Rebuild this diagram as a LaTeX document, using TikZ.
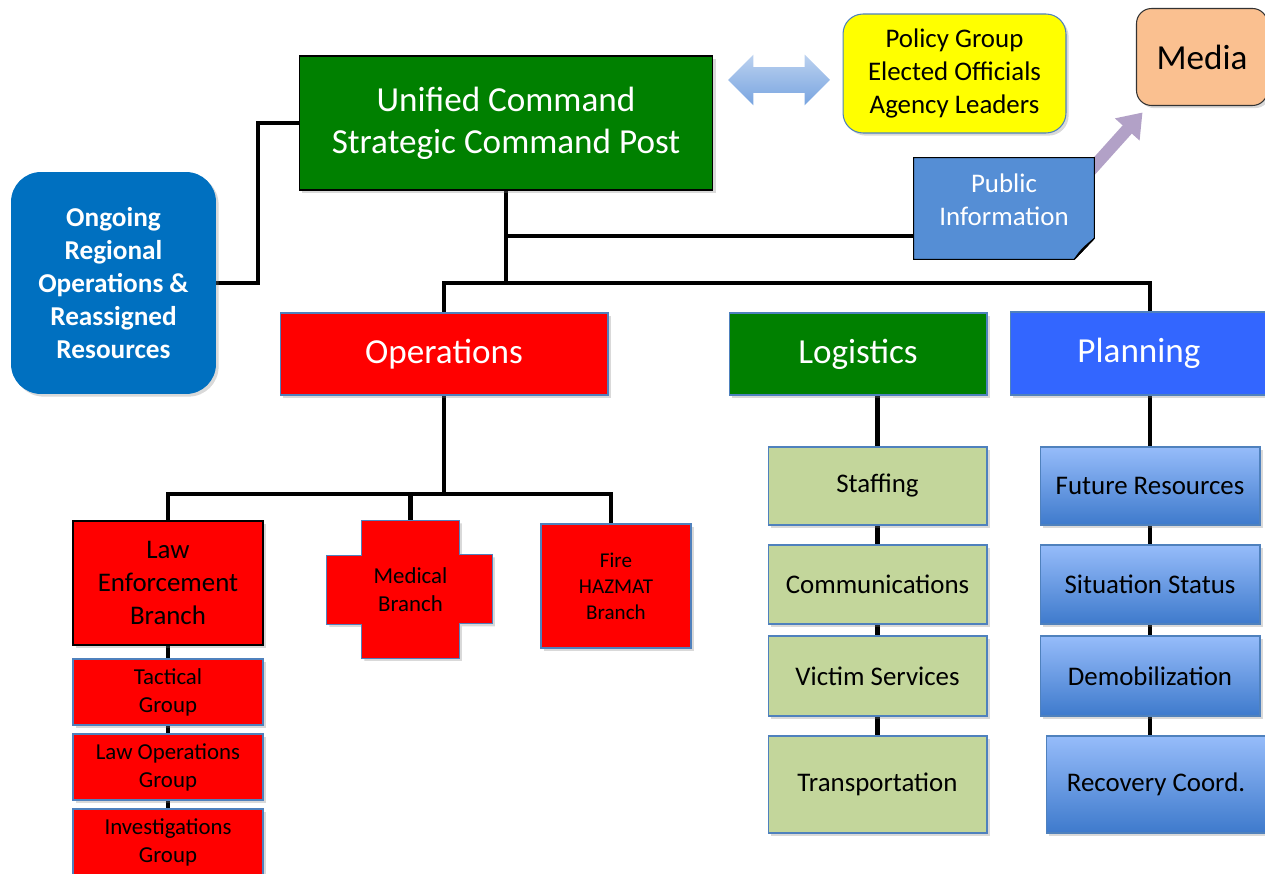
\documentclass[tikz,border=0pt]{standalone}
\usepackage{fontspec}
\setmainfont{Carlito}
\usepackage{tikz}
\usetikzlibrary{positioning,calc,shapes.arrows,shadows,backgrounds,arrows.meta}
\definecolor{cmdgreen}{RGB}{0,128,0}
\definecolor{opsred}{RGB}{255,0,0}
\definecolor{planblue}{RGB}{51,102,255}
\definecolor{regionblue}{RGB}{0,112,192}
\definecolor{policyyellow}{RGB}{255,255,0}
\definecolor{mediapeach}{RGB}{250,192,144}
\definecolor{pioblue}{RGB}{85,142,213}
\definecolor{lavender}{RGB}{178,161,199}
\definecolor{logigreen}{RGB}{195,214,155}
\definecolor{edgeblue}{RGB}{79,129,189}
\definecolor{gradtop}{RGB}{150,188,250}
\definecolor{gradbot}{RGB}{62,122,204}
\definecolor{arrowblue}{RGB}{120,164,224}

\tikzset{
  box/.style={rectangle, inner sep=0pt, outer sep=0pt, align=center, draw=edgeblue, line width=0.6pt},
  shade/.style={drop shadow={opacity=0.3, shadow xshift=1.5pt, shadow yshift=-1.5pt}},
  conn/.style={line width=2.3pt, black},
  big/.style={font=\fontsize{20}{24}\selectfont},
  mid/.style={font=\fontsize{15.3}{18.8}\selectfont},
  small/.style={font=\fontsize{13}{16}\selectfont},
  tiny/.style={font=\fontsize{12}{14.8}\selectfont},
  logibox/.style={box, shade, fill=logigreen, mid, minimum width=4.38cm},
  planbox/.style={box, shade, top color=gradtop, bottom color=gradbot, mid, minimum width=4.4cm},
  lawbox/.style={box, shade, fill=opsred, small, minimum width=3.8cm, minimum height=1.32cm}
}

\begin{document}
\begin{tikzpicture}[x=0.02cm, y=-0.02cm]
        \clip (0,0) rectangle (1265,874);

        % Top level
        \node[box, shade, draw=black, fill=cmdgreen, text=white, big, minimum width=8.28cm, minimum height=2.68cm] (uc) at (506,123) {\raisebox{-0.06cm}{\parbox{8cm}{\centering Unified Command\\Strategic Command Post}}};
        \node[double arrow, double arrow head extend=0.25cm, minimum height=2.04cm, inner xsep=0pt, inner ysep=0.25cm, top color=arrowblue!50, bottom color=arrowblue] (dbl) at (779,80) {};
        \node[box, shade, rounded corners=0.4cm, fill=policyyellow, mid, minimum width=4.46cm, minimum height=2.38cm] (pol) at (954.5,73.5) {Policy Group\\Elected Officials\\Agency Leaders};
        \node[box, shade, draw=black!80, rounded corners=0.3cm, fill=mediapeach, big, minimum width=2.62cm, minimum height=1.94cm] (media) at (1202,57) {Media};
        \node[inner sep=0pt, minimum width=3.6cm, minimum height=2.02cm,
              label={[name=pitext, align=center, text=white, mid, yshift=0.18cm]center:Public\\Information}] (pi) at (1004,208.5) {};
        \node[box, shade, draw=none, rounded corners=0.6cm, fill=regionblue, text=white, font=\fontsize{15.5}{18.8}\selectfont\bfseries, minimum width=4.1cm, minimum height=4.44cm] (ong) at (113.5,283) {Ongoing\\Regional\\Operations \&\\Reassigned\\Resources};

        % Sections
        \node[box, shade, fill=opsred, text=white, big, minimum width=6.56cm, minimum height=1.64cm] (ops) at (444,354) {Operations};
        \node[box, shade, fill=cmdgreen, text=white, big, minimum width=5.16cm, minimum height=1.64cm] (logi) at (858,354) {Logistics};
        \node[box, shade, fill=planblue, text=white, big, minimum width=5.16cm, minimum height=1.66cm] (plan) at (1139,353.5) {Planning};

        % Operations branches
        \node[box, shade, draw=black, fill=opsred, mid, minimum width=3.8cm, minimum height=2.48cm] (law) at (168,583) {Law\\Enforcement\\Branch};
        \node[inner sep=0pt, align=center, small, minimum width=1.94cm, minimum height=2.74cm] (med) at (410.5,589.5) {Medical\\Branch};
        \node[box, shade, fill=opsred, tiny, minimum width=3cm, minimum height=2.48cm] (fire) at (616,586) {Fire\\HAZMAT\\Branch};
        \node[lawbox] (tac) at (168,692) {Tactical\\Group};
        \node[lawbox] (lops) at (168,767) {Law Operations\\Group};
        \node[lawbox, minimum height=1.34cm] (inv) at (168,842.5) {Investigations\\Group};

        % Logistics units
        \node[logibox, minimum height=1.56cm] (staff) at (877.5,486) {Staffing};
        \node[logibox, minimum height=1.58cm] (comm) at (877.5,584.5) {Communications};
        \node[logibox, minimum height=1.6cm] (vict) at (877.5,676) {Victim Services};
        \node[logibox, minimum height=1.94cm] (trans) at (877.5,784.5) {Transportation};

        % Planning units
        \node[planbox, minimum height=1.56cm] (fut) at (1150,486) {Future Resources};
        \node[planbox, minimum height=1.58cm] (sit) at (1150,584.5) {Situation Status};
        \node[planbox, minimum height=1.6cm] (demob) at (1150,676) {Demobilization};
        \node[planbox, minimum height=1.94cm] (recov) at (1156,784.5) {Recovery Coord.};

        \begin{scope}[on background layer]
        % Media arrow
        \draw[lavender, line width=7pt, -{Triangle[width=18pt,length=13pt]}] ($(pi.north east)+(-14,24)$) -- ($(media.south west)+(6,7)$);

        % Lines
        \draw[conn] (uc.west) -- ++(-41,0) |- (ong.east);
        \coordinate (bus) at (506,283);
        \draw[conn] (uc.south) -- (bus);
        \draw[conn] (uc.south |- 0,236) -- (pi.west |- 0,236);
        \draw[conn] (ops.north) |- (bus) -| (fut.north |- plan.north);
        \coordinate (obus) at (444,494);
        \draw[conn] (ops.south) -- (obus);
        \draw[conn] (law.north) |- (obus) -| ([xshift=-0.1cm]fire.north);
        \draw[conn] (obus -| med.north) -- (med.north);
        \draw[conn] (law.south) -- (tac.north);
        \draw[conn] (tac.south) -- (lops.north);
        \draw[conn] (lops.south) -- (inv.north);
        \draw[conn] (staff.north |- logi.south) -- (staff.north);
        \foreach \a/\b in {staff/comm, comm/vict, vict/trans}
          \draw[conn] (\a.south) -- (\b.north);
        \draw[conn] (fut.north |- plan.south) -- (fut.north);
        \foreach \a/\b in {fut/sit, sit/demob}
          \draw[conn] (\a.south) -- (\b.north);
        \draw[conn] (demob.south) -- (demob.south |- recov.north);

        % Medical cross
        \filldraw[opsred, draw=edgeblue, line width=0.6pt, shade]
          (med.north west) -- (med.north east) -- ++(0,34) -- ++(33,0) -- ++(0,69) -- ++(-33,0)
          -- (med.south east) -- (med.south west) -- ++(0,-34) -- ++(-35,0) -- ++(0,-69) -- ++(35,0) -- cycle;

        % Public information sheet
        \filldraw[pioblue, draw=black, line width=0.6pt]
          (pi.north west) -- (pi.north east) -- ([yshift=0.42cm]pi.south east)
          -- ([xshift=-0.4cm]pi.south east) -- (pi.south west) -- cycle;
        \filldraw[pioblue!65!black, draw=black, line width=0.6pt]
          ([xshift=-0.4cm]pi.south east) .. controls ([xshift=-0.26cm,yshift=0.2cm]pi.south east) .. ([yshift=0.42cm]pi.south east) -- cycle;
        \end{scope}

    \end{tikzpicture}
\end{document}
